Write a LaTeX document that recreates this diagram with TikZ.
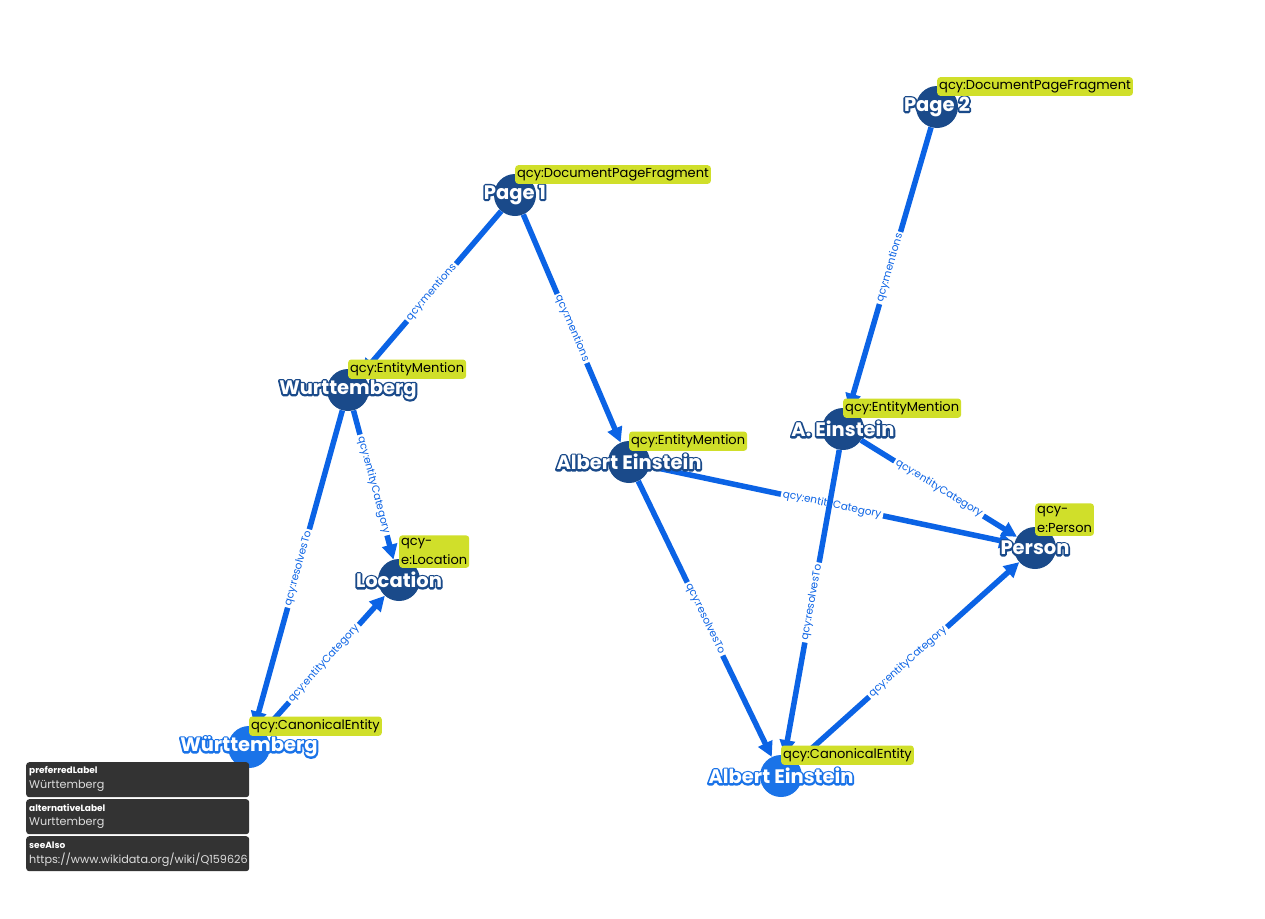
\documentclass[tikz,border=0pt]{standalone}
\usepackage{fontspec}
\setmainfont{Poppins}
\usetikzlibrary{arrows.meta}
\definecolor{navy}{HTML}{1A4A8A}
\definecolor{canonblue}{HTML}{1A73E8}
\definecolor{edgeblue}{HTML}{0B63E5}
\definecolor{tagc}{HTML}{D0DF2A}
\definecolor{tipgray}{HTML}{333333}
\definecolor{tiptext}{HTML}{DDDDDD}
\newcommand\olab[4]{%
  \node[nlab,text=#3] (#1o) at (#2) {\special{pdf:literal direct 1 Tr 3.6 w 1 j 1 J}#4\special{pdf:literal direct 0 Tr}};
  \node[nlab,text=white] (#1) at (#2) {#4};}
\newcommand\tipbox[4]{%
  \node[tip] (#1) at (26,#2) {};
  \node[tiptitle] (#1t) at (29,#2+9) {#3};
  \node[tipval] (#1v) at (29,#2+24) {#4};}
\begin{document}
\begin{tikzpicture}[x=1pt,y=-1pt,
  ent/.style={circle, minimum size=42pt, inner sep=0pt, fill=navy},
  canon/.style={ent, fill=canonblue},
  rel/.style={draw=edgeblue, line width=5.5pt, -{Triangle[length=15pt,width=15pt]}},
  elab/.style={sloped, fill=white, inner sep=2pt, font=\fontsize{10.5}{12}\selectfont, text=edgeblue},
  tag/.style={anchor=south west, fill=tagc, rounded corners=3pt, inner xsep=2pt, inner ysep=3pt, font=\fontsize{13}{19}\selectfont, align=left, text=black},
  nlab/.style={font=\bfseries\fontsize{19.5}{22}\selectfont, inner sep=0pt},
  tip/.style={fill=tipgray, rounded corners=3pt, minimum width=223pt, minimum height=35pt, anchor=north west, inner sep=0pt},
  tiptitle/.style={anchor=west, inner sep=0pt, text=white, font=\bfseries\fontsize{9}{11}\selectfont},
  tipval/.style={anchor=west, inner sep=0pt, text=tiptext, font=\fontsize{11.2}{14}\selectfont}
]
\useasboundingbox[fill=white] (0,0) rectangle (1265,918);
% nodes
\node[ent] (p1) at (515,195) {};
\node[ent] (p2) at (937,107) {};
\node[ent] (wm) at (348,390) {};
\node[ent] (loc) at (399,580) {};
\node[ent] (aem) at (629,462) {};
\node[ent] (ae2) at (843,429) {};
\node[ent] (per) at (1035,548) {};
\node[canon] (wc) at (249,747) {};
\node[canon] (aec) at (781,776) {};
% edges
\draw[rel] (p1) -- node[elab] (e1) {qcy:mentions} (wm);
\draw[rel] (p1) -- node[elab] (e2) {qcy:mentions} (aem);
\draw[rel] (p2) -- node[elab] (e3) {qcy:mentions} (ae2);
\draw[rel] (wm) -- node[elab] (e4) {qcy:entityCategory} (loc);
\draw[rel] (wm) -- node[elab] (e5) {qcy:resolvesTo} (wc);
\draw[rel] (wc) -- node[elab] (e6) {qcy:entityCategory} (loc);
\draw[rel] (aem) -- node[elab] (e7) {qcy:entityCategory} (per);
\draw[rel] (aem) -- node[elab] (e8) {qcy:resolvesTo} (aec);
\draw[rel] (ae2) -- node[elab] (e9) {qcy:entityCategory} (per);
\draw[rel] (ae2) -- node[elab] (e10) {qcy:resolvesTo} (aec);
\draw[rel] (aec) -- node[elab] (e11) {qcy:entityCategory} (per);
% labels
\olab{p1l}{p1}{navy}{Page 1}
\olab{p2l}{p2}{navy}{Page 2}
\olab{wml}{wm}{navy}{Wurttemberg}
\olab{locl}{loc}{navy}{Location}
\olab{aeml}{aem}{navy}{Albert Einstein}
\olab{ae2l}{ae2}{navy}{A. Einstein}
\olab{perl}{per}{navy}{Person}
\olab{wcl}{wc}{canonblue}{Württemberg}
\olab{aecl}{aec}{canonblue}{Albert Einstein}
% tags
\node[tag] (t1) at (515,184) {qcy:DocumentPageFragment};
\node[tag] (t2) at (937,96) {qcy:DocumentPageFragment};
\node[tag] (t3) at (348,379) {qcy:EntityMention};
\node[tag] (t4) at (399,568) {qcy-\\e:Location};
\node[tag] (t5) at (629,451) {qcy:EntityMention};
\node[tag] (t6) at (843,418) {qcy:EntityMention};
\node[tag] (t7) at (1035,536) {qcy-\\e:Person};
\node[tag] (t8) at (249,736) {qcy:CanonicalEntity};
\node[tag] (t9) at (781,765) {qcy:CanonicalEntity};
% tooltip
\tipbox{tp1}{762}{preferredLabel}{Württemberg}
\tipbox{tp2}{799}{alternativeLabel}{Wurttemberg}
\tipbox{tp3}{836}{seeAlso}{https://www.wikidata.org/wiki/Q159626}
\end{tikzpicture}
\end{document}
